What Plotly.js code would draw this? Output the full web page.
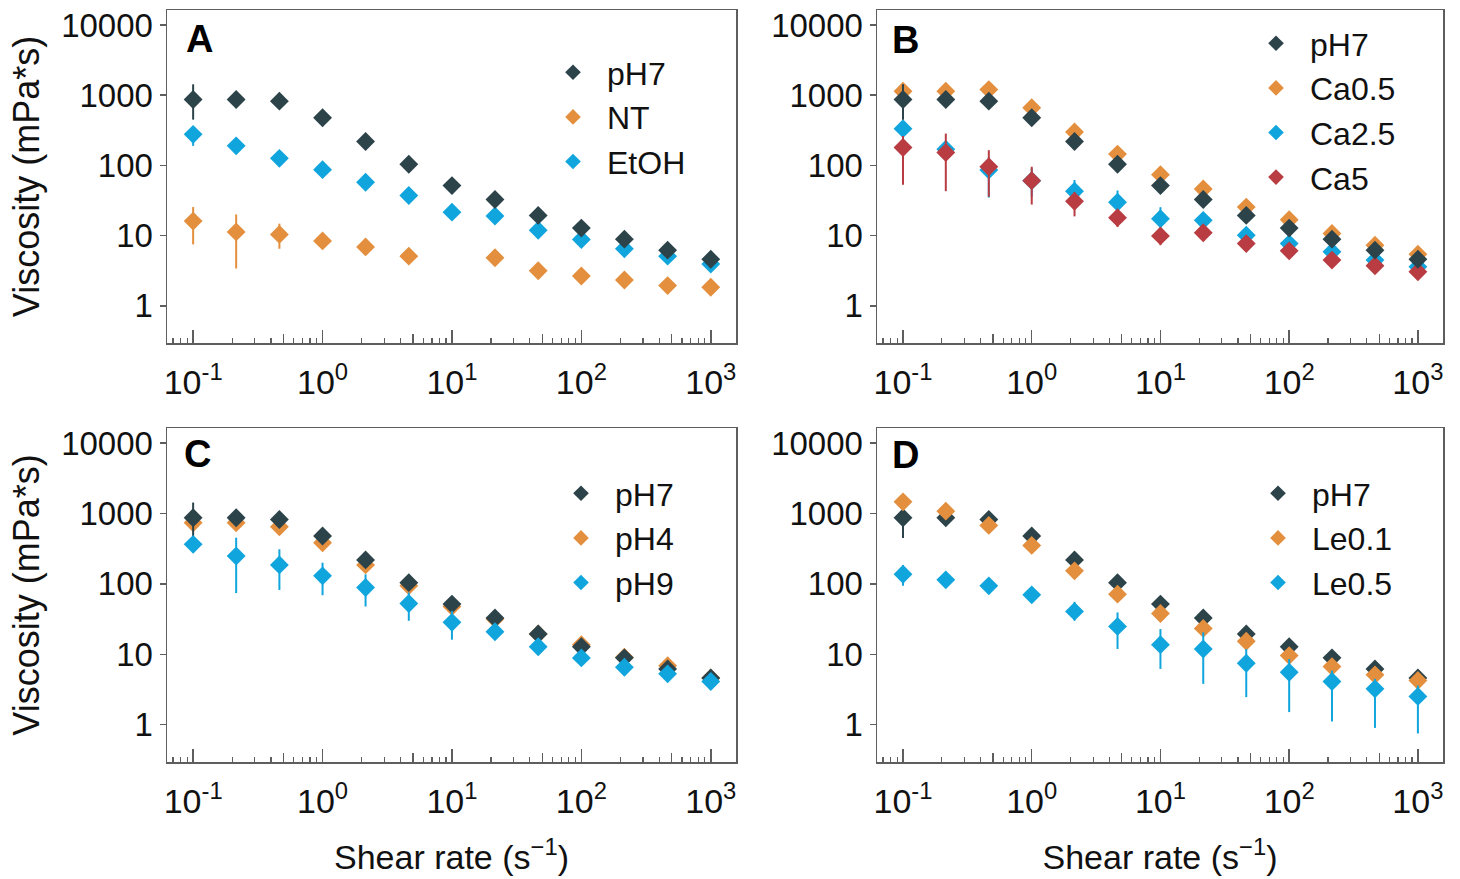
<!DOCTYPE html>
<html>
<head>
<meta charset="utf-8">
<script src="https://cdn.plot.ly/plotly-3.0.1.min.js"></script>
<style>html,body{margin:0;padding:0;background:#fff;}#chart{width:1460px;height:879px;}</style>
</head>
<body>
<div id="chart"></div>
<script>
// ---------- data ----------
const shearRate = [0.1, 0.215, 0.464, 1, 2.15, 4.64, 10, 21.5, 46.4, 100, 215, 464, 1000];

const pH7      = [869, 869, 822, 478, 219, 104, 51.6, 32.7, 19.4, 12.8, 8.9, 6.2, 4.6];
const pH7Plus  = [560, 200, 100, 90, 30, 12, 5, 3, 2, 1.2, 0.8, 0.5, 0.4];
const pH7Minus = [420, 170, 90, 110, 30, 12, 5, 3, 2, 1.2, 0.8, 0.5, 0.4];

const NT      = [16.1, 11.3, 10.4, 8.4, 6.9, 5.1, null, 4.83, 3.16, 2.66, 2.33, 1.94, 1.84];
const NTPlus  = [9.4, 8.7, 4.4, 0.8, 1.0, 0.5, null, 0.5, 0.3, 0.2, 0.2, 0.15, 0.15];
const NTMinus = [8.6, 7.9, 3.9, 0.8, 1.0, 0.5, null, 0.5, 0.3, 0.2, 0.2, 0.15, 0.15];

const EtOH      = [277, 190, 126, 86.9, 57.5, 37.2, 21.6, 19.0, 11.9, 8.8, 6.5, 5.1, 3.93];
const EtOHPlus  = [68, 15, 10, 8, 5, 3, 2, 1.5, 1, 0.7, 0.5, 0.4, 0.3];
const EtOHMinus = [87, 15, 10, 8, 5, 3, 2, 1.5, 1, 0.7, 0.5, 0.4, 0.3];

const Ca05      = [1140, 1140, 1203, 662, 299, 145, 73.8, 46.2, 25.5, 16.8, 10.7, 7.3, 5.44];
const Ca05Plus  = [150, 100, 100, 60, 25, 12, 6, 4, 2, 1.2, 0.8, 0.5, 0.4];
const Ca05Minus = [150, 100, 100, 60, 25, 12, 6, 4, 2, 1.2, 0.8, 0.5, 0.4];

const Ca25      = [334, 170, 85.9, 60.7, 42.9, 29.9, 17.4, 16.5, 10.1, 7.7, 5.9, 4.48, 3.6];
const Ca25Plus  = [60, 40, 44, 30, 19, 14, 8, 3, 1.5, 1, 0.6, 0.5, 0.4];
const Ca25Minus = [60, 40, 51, 25, 14.5, 9.4, 5.5, 3, 1.5, 1, 0.6, 0.5, 0.4];

const Ca5      = [180, 153, 95.7, 60.7, 30.9, 18.0, 9.9, 11.0, 7.7, 6.07, 4.48, 3.72, 3.06];
const Ca5Plus  = [83, 131, 69, 35, 10.6, 4.4, 2, 1.5, 1, 0.6, 0.4, 0.3, 0.3];
const Ca5Minus = [127, 110, 60, 33, 12.1, 4.7, 2.6, 1.5, 1, 0.6, 0.4, 0.3, 0.3];

const pH4      = [738, 738, 648, 384, 186, 93.7, 47.8, 31.6, 19.4, 13.7, 9.07, 6.9, 4.6];
const pH4Plus  = [80, 80, 70, 40, 20, 8, 4, 2, 1.5, 1, 0.6, 0.5, 0.3];
const pH4Minus = [80, 80, 70, 40, 20, 8, 4, 2, 1.5, 1, 0.6, 0.5, 0.3];

const pH9      = [364, 249, 186, 130, 88.7, 52.7, 28.4, 20.9, 12.8, 8.88, 6.55, 5.27, 4.1];
const pH9Plus  = [60, 204, 124, 70, 48, 22.7, 13, 3, 1.5, 1, 0.6, 0.4, 0.3];
const pH9Minus = [50, 175, 104, 61, 41, 22.8, 12.3, 3, 1.5, 1, 0.6, 0.4, 0.3];

const Le01      = [1463, 1079, 676, 352, 153, 71.4, 38.0, 23.3, 15.3, 9.58, 6.69, 5.1, 4.24];
const Le01Plus  = [120, 100, 60, 30, 14, 6, 3, 2, 1.2, 0.8, 0.5, 0.4, 0.3];
const Le01Minus = [120, 100, 60, 30, 14, 6, 3, 2, 1.2, 0.8, 0.5, 0.4, 0.3];

const Le05      = [137, 114, 93.7, 69.9, 40.6, 24.9, 13.7, 11.9, 7.46, 5.56, 4.1, 3.23, 2.52];
const Le05Plus  = [49, 15, 8, 6, 15, 14.4, 9.1, 8.6, 4.4, 3.0, 1.77, 1.25, 1.08];
const Le05Minus = [43, 12, 8, 6, 10.7, 13, 7.5, 8.1, 5.0, 4.05, 2.99, 2.33, 1.77];

const panelLabels = ['A', 'B', 'C', 'D'];
const xTickVals = [0.1, 1, 10, 100, 1000];
const xTickText = ['10<sup>-1</sup>', '10<sup>0</sup>', '10<sup>1</sup>', '10<sup>2</sup>', '10<sup>3</sup>'];
const yTickVals = [1, 10, 100, 1000, 10000];
const yTickText = ['1', '10', '100', '1000', '10000'];
const yTitle = 'Viscosity (mPa*s)';
const xTitle = 'Shear rate (s<sup>\u22121</sup>)';

// ---------- styles ----------
const C = {dark: '#2c434a', orange: '#e38f3e', blue: '#11a5dd', red: '#b83c42'};
const FONT = 'Liberation Sans, Arial, sans-serif';
const W = 1460, H = 879;

// series per panel, in drawing order; rank = legend position
const panels = [
  {legend: 'legend', series: [
    {name: 'NT', y: NT, p: NTPlus, m: NTMinus, c: C.orange, rank: 2},
    {name: 'EtOH', y: EtOH, p: EtOHPlus, m: EtOHMinus, c: C.blue, rank: 3},
    {name: 'pH7', y: pH7, p: pH7Plus, m: pH7Minus, c: C.dark, rank: 1}]},
  {legend: 'legend2', series: [
    {name: 'Ca0.5', y: Ca05, p: Ca05Plus, m: Ca05Minus, c: C.orange, rank: 2},
    {name: 'Ca2.5', y: Ca25, p: Ca25Plus, m: Ca25Minus, c: C.blue, rank: 3},
    {name: 'Ca5', y: Ca5, p: Ca5Plus, m: Ca5Minus, c: C.red, rank: 4},
    {name: 'pH7', y: pH7, p: pH7Plus, m: pH7Minus, c: C.dark, rank: 1}]},
  {legend: 'legend3', series: [
    {name: 'pH4', y: pH4, p: pH4Plus, m: pH4Minus, c: C.orange, rank: 2},
    {name: 'pH7', y: pH7, p: pH7Plus, m: pH7Minus, c: C.dark, rank: 1},
    {name: 'pH9', y: pH9, p: pH9Plus, m: pH9Minus, c: C.blue, rank: 3}]},
  {legend: 'legend4', series: [
    {name: 'pH7', y: pH7, p: pH7Plus, m: pH7Minus, c: C.dark, rank: 1},
    {name: 'Le0.1', y: Le01, p: Le01Plus, m: Le01Minus, c: C.orange, rank: 2},
    {name: 'Le0.5', y: Le05, p: Le05Plus, m: Le05Minus, c: C.blue, rank: 3}]}
];

// pixel boxes of the four frames
const boxes = [
  {l: 167, r: 736, t: 10, b: 343},
  {l: 877, r: 1443, t: 10, b: 343},
  {l: 167, r: 736, t: 428, b: 762},
  {l: 877, r: 1443, t: 428, b: 762}
];
const xRange = [-1.202, 3.195];
const yRange = [-0.53, 4.214];
const legendPos = [
  {x: 539, y: 45}, {x: 1242, y: 16}, {x: 547, y: 466}, {x: 1244, y: 466}
];
const labelPos = [{x: 199, y: 39}, {x: 905, y: 40}, {x: 197, y: 454}, {x: 905, y: 455}];

const minorVals = [];
for (let d = -2; d <= 3; d++) {
  [2, 3, 4, 6, 7, 8, 9].forEach(k => minorVals.push(k * Math.pow(10, d)));
}
const fiveVals = [0.05, 0.5, 5, 50, 500];

const traces = [];
const layout = {
  width: W, height: H,
  margin: {l: 0, r: 0, t: 0, b: 0},
  paper_bgcolor: '#fff', plot_bgcolor: '#fff',
  font: {family: FONT, color: '#111', size: 32},
  showlegend: true,
  annotations: []
};

panels.forEach((p, i) => {
  const n = i + 1;
  const xa = n === 1 ? 'x' : 'x' + n;
  const ya = n === 1 ? 'y' : 'y' + n;
  p.series.forEach(s => {
    traces.push({
      type: 'scatter', mode: 'markers',
      x: shearRate, y: s.y, name: s.name,
      xaxis: xa, yaxis: ya, legend: p.legend, legendrank: s.rank,
      marker: {symbol: 'diamond', size: 14.5, color: s.c},
      error_y: {type: 'data', symmetric: false, array: s.p, arrayminus: s.m,
                color: s.c, thickness: 2, width: 0},
      cliponaxis: false
    });
  });
  const b = boxes[i];
  const xKey = n === 1 ? 'xaxis' : 'xaxis' + n;
  const yKey = n === 1 ? 'yaxis' : 'yaxis' + n;
  layout[xKey] = {
    type: 'log', range: xRange, anchor: ya,
    domain: [b.l / W, b.r / W],
    showline: true, mirror: true, linecolor: '#5e5e5e', linewidth: 1.5,
    showgrid: false, zeroline: false,
    tickmode: 'array', tickvals: xTickVals, ticktext: xTickText,
    ticks: 'inside', ticklen: 13, tickwidth: 1.5, tickcolor: '#5e5e5e',
    ticklabelstandoff: 9,
    tickfont: {size: 34, family: FONT, color: '#111'},
    minor: {tickmode: 'array', tickvals: minorVals, ticks: 'inside', ticklen: 5,
            tickwidth: 1.2, tickcolor: '#5e5e5e', showgrid: false},
    title: (n >= 3) ? {text: xTitle, font: {size: 34, family: FONT, color: '#111'}, standoff: 26} : {text: ''}
  };
  layout[yKey] = {
    type: 'log', range: yRange, anchor: xa,
    domain: [1 - b.b / H, 1 - b.t / H],
    showline: true, mirror: true, linecolor: '#5e5e5e', linewidth: 1.5,
    showgrid: false, zeroline: false,
    tickmode: 'array', tickvals: yTickVals, ticktext: yTickText,
    ticks: 'outside', ticklen: 6, tickwidth: 1.5, tickcolor: '#5e5e5e',
    tickfont: {size: 33, family: FONT, color: '#111'},
    title: (n === 1 || n === 3) ? {text: yTitle, font: {size: 36, family: FONT, color: '#111'}, standoff: 10} : {text: ''}
  };
  // overlay axis carrying the medium-length ticks at the 5s
  const oKey = 'xaxis' + (n + 4);
  layout[oKey] = {
    type: 'log', range: xRange, overlaying: xa, anchor: ya, side: 'bottom',
    showline: false, showgrid: false, zeroline: false,
    tickmode: 'array', tickvals: fiveVals, ticks: 'inside', ticklen: 9,
    tickwidth: 1.2, tickcolor: '#5e5e5e', showticklabels: false
  };
  traces.push({type: 'scatter', mode: 'markers', x: [], y: [], xaxis: 'x' + (n + 4), yaxis: ya,
               showlegend: false, hoverinfo: 'skip'});
  const lp = legendPos[i];
  layout[p.legend] = {
    x: lp.x / W, y: 1 - lp.y / H, xanchor: 'left', yanchor: 'top',
    bgcolor: 'rgba(0,0,0,0)', borderwidth: 0,
    font: {size: 32, family: FONT, color: '#111'},
    itemsizing: 'constant', itemwidth: 58, tracegroupgap: 0
  };
  const lb = labelPos[i];
  layout.annotations.push({
    xref: 'paper', yref: 'paper', x: lb.x / W, y: 1 - lb.y / H,
    xanchor: 'center', yanchor: 'middle', showarrow: false,
    text: '<b>' + panelLabels[i] + '</b>',
    font: {size: 38, family: FONT, color: '#000'}
  });
});

Plotly.newPlot('chart', traces, layout, {displayModeBar: false, staticPlot: true});
</script>
</body>
</html>
